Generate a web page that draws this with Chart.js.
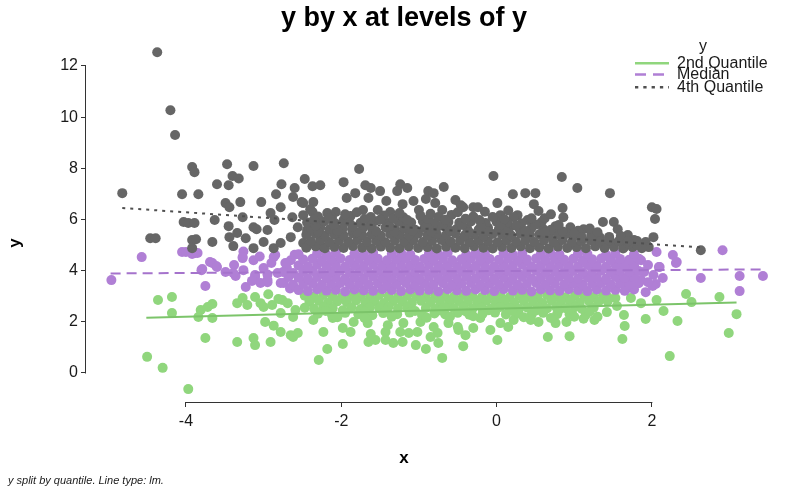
<!DOCTYPE html>
<html>
<head>
<meta charset="utf-8">
<script src="https://cdn.jsdelivr.net/npm/chart.js@4/dist/chart.umd.min.js"></script>
<style>
  html, body { margin: 0; padding: 0; background: #fff; }
</style>
</head>
<body>
<canvas id="myChart" width="799" height="494"></canvas>
<script>
// tick labels
const xTicks = [-4, -2, 0, 2];
const yTicks = [0, 2, 4, 6, 8, 10, 12];
const groupNames = ['2nd Quantile', 'Median', '4th Quantile'];

// points, [x, y]
const greenPts = [
  [-4.50,0.63],[-4.30,0.20],[-3.97,-0.63],[-4.36,2.85],[-4.18,2.97],[-4.18,2.34],[-3.81,2.46],[-3.84,2.19],[-3.72,2.58],[-3.66,2.70],
  [-3.66,2.15],[-3.75,1.37],[-3.34,2.73],[-3.27,2.93],[-3.21,2.66],[-3.11,2.97],[-3.04,2.73],[-3.00,2.58],[-2.94,3.08],[-2.89,2.66],
  [-2.98,1.99],[-2.87,1.85],[-2.78,1.60],[-2.76,2.85],[-2.69,2.73],[-2.65,1.48],[-2.91,1.21],[-3.13,1.37],[-3.11,1.09],[-3.34,1.21],
  [-2.59,2.46],[-2.62,2.19],[-2.81,2.89],[-2.78,2.34],[-2.62,1.41],[-2.56,1.56],
  [-2.29,0.51],[-2.18,0.94],[-2.23,1.60],[-1.98,1.13],[-1.65,1.21],[-1.56,1.29],[-1.33,1.17],[-1.21,1.21],[-1.04,1.09],[-0.91,0.94],
  [-0.70,0.59],[-0.75,1.17],[-0.43,1.05],[-0.40,1.48],[-0.49,1.68],[0.01,1.29],[0.15,1.80],[0.66,1.41],[-1.98,1.76],[-1.88,1.60],
  [-1.62,1.52],[-1.43,1.29],[-1.43,1.60],[-1.24,1.60],[-1.13,1.56],[-1.02,1.60],[-0.85,1.41],[-0.76,1.56],[-0.30,1.76],[-0.21,2.15],
  [-0.08,1.68],[0.22,2.07],[0.44,2.07],[0.54,1.99],[-2.36,2.07],[-2.11,2.15],[-1.84,1.99],[-1.66,1.95],[-1.40,1.87],[-1.20,1.95],
  [-0.98,1.99],[-0.81,1.80],[-0.62,1.95],[-0.50,1.80],[0.05,1.95],
  [0.94,1.44],[0.76,1.95],[0.90,1.99],[0.94,2.30],[1.26,2.07],[1.42,2.38],[1.64,2.27],[1.65,1.84],[1.62,1.33],[1.92,2.11],
  [2.15,2.42],[2.33,2.03],[2.23,0.66],[2.99,1.56],[3.09,2.30],[2.87,2.97],[2.51,2.77],[2.44,3.09],[2.06,2.85],[1.86,2.73],
  [1.73,2.93],[1.53,2.93],[1.43,2.97],[1.55,2.62],[1.30,2.20],[1.12,2.12],
  [-2.47,3.02],[-2.35,2.98],[-2.23,3.05],[-2.11,3.00],[-1.99,2.97],[-1.87,3.04],[-1.75,3.01],[-1.63,2.98],[-1.51,3.05],[-1.39,3.00],
  [-1.27,2.96],[-1.15,3.03],[-1.03,3.00],[-0.91,2.97],[-0.79,3.04],[-0.67,3.01],[-0.55,2.98],[-0.43,3.05],[-0.31,3.00],[-0.19,2.96],
  [-0.07,3.03],[0.05,3.00],[0.17,2.97],[0.29,3.04],[0.41,3.01],[0.53,2.98],[0.65,3.05],[0.77,3.00],[0.89,2.96],[1.01,3.03],
  [1.13,3.00],[1.25,2.97],[1.37,3.03],
  [-2.41,2.78],[-2.29,2.82],[-2.17,2.75],[-2.05,2.80],[-1.93,2.77],[-1.81,2.83],[-1.69,2.76],[-1.57,2.79],[-1.45,2.74],[-1.33,2.81],
  [-1.21,2.78],[-1.09,2.75],[-0.97,2.82],[-0.85,2.77],[-0.73,2.80],[-0.61,2.74],[-0.49,2.81],[-0.37,2.78],[-0.25,2.75],[-0.13,2.82],
  [-0.01,2.77],[0.11,2.80],[0.23,2.75],[0.35,2.81],[0.47,2.78],[0.59,2.74],[0.71,2.82],[0.83,2.77],[0.95,2.80],[1.07,2.75],
  [1.19,2.81],[1.31,2.77],[1.43,2.80],
  [-2.47,2.55],[-2.35,2.51],[-2.23,2.58],[-2.11,2.53],[-1.87,2.56],[-1.75,2.50],[-1.63,2.57],[-1.51,2.53],[-1.39,2.59],[-1.27,2.52],
  [-1.15,2.56],[-0.91,2.54],[-0.79,2.50],[-0.67,2.57],[-0.55,2.53],[-0.43,2.58],[-0.31,2.51],[-0.19,2.55],[-0.07,2.52],[0.05,2.58],
  [0.17,2.54],[0.29,2.50],[0.53,2.56],[0.65,2.52],[0.77,2.57],[0.89,2.53],[1.01,2.58],[1.25,2.55],
  [-2.30,2.32],[-2.12,2.28],[-1.95,2.35],[-1.78,2.30],[-1.60,2.26],[-1.46,2.34],[-1.28,2.30],[-1.12,2.36],[-0.96,2.27],[-0.80,2.33],
  [-0.66,2.29],[-0.50,2.35],[-0.35,2.28],[-0.18,2.32],[-0.02,2.36],[0.12,2.29],[0.28,2.33],[0.45,2.27],[0.60,2.35],[0.78,2.30],
  [0.97,2.34],[1.15,2.28],
  [-2.20,2.42],[-1.98,2.45],[-1.70,2.40],[-1.43,2.44],[-1.05,2.42],[-0.72,2.44],[-0.40,2.41],[-0.10,2.45],[0.20,2.42],[0.40,2.55],
  [0.50,2.43],[0.80,2.45],[1.10,2.50],[1.20,2.40],
  [-2.05,2.18],[-1.70,2.15],[-1.35,2.20],[-0.90,2.16],[-0.60,2.20],[-0.30,2.22],[0.35,2.18],[0.70,2.15],[1.00,2.20]
];

const purplePts = [
  [-4.57,4.53],[-4.96,3.63],[-4.05,4.73],[-3.92,4.65],[-3.85,4.69],[-3.75,3.40],[-3.80,4.02],[-3.69,4.34],[-3.61,4.18],[-3.49,3.95],
  [-3.38,4.22],[-3.36,3.79],[-3.26,4.75],[-3.27,4.49],[-3.13,4.41],[-3.23,3.36],[-3.11,3.75],[-3.00,4.10],[-2.95,3.63],[-2.85,4.61],
  [-2.82,3.91],[-2.74,3.52],[-2.65,4.41],[-2.62,3.91],[-4.00,4.73],[-3.88,4.69],[-3.79,4.06],[-3.66,4.30],[-3.60,4.14],[-3.39,3.91],
  [-3.27,4.53],[-3.26,4.02],[-3.11,3.83],[-3.04,3.52],[-2.95,3.55],[-2.87,4.53],[-2.78,3.52],[-2.70,4.10],[-2.66,3.30],
  [-2.68,3.75],[-2.72,4.30],[-2.60,4.62],[-2.62,3.45],[-2.75,3.95],[-2.90,4.30],[-2.95,3.85],[-3.05,4.55],[-3.15,3.60],
  [3.43,3.79],[3.13,3.79],[3.13,3.20],[2.63,3.71],[2.32,4.34],[2.14,3.71],[2.10,4.14],[2.02,3.83],[2.05,3.48],[2.01,3.40],
  [1.92,3.16],[1.86,3.63],[1.73,3.79],[1.66,4.22],[1.56,4.18],[1.69,3.32],[2.91,4.80],[2.27,4.61],[2.31,4.30],[2.06,4.73],
  [1.86,4.41],[1.95,4.22],[2.09,4.14],[1.95,3.55],[1.90,3.95],
  [-2.55,3.24],[-2.43,3.20],[-2.31,3.27],[-2.19,3.22],[-2.07,3.25],[-1.95,3.19],[-1.83,3.26],[-1.71,3.23],[-1.59,3.21],[-1.47,3.27],
  [-1.35,3.24],[-1.23,3.20],[-1.11,3.26],[-0.99,3.22],[-0.87,3.25],[-0.75,3.19],[-0.63,3.27],[-0.51,3.23],[-0.39,3.21],[-0.27,3.26],
  [-0.15,3.24],[-0.03,3.20],[0.09,3.27],[0.21,3.22],[0.33,3.25],[0.45,3.19],[0.57,3.26],[0.69,3.23],[0.81,3.21],[0.93,3.27],
  [1.05,3.24],[1.17,3.20],[1.29,3.26],[1.41,3.22],[1.53,3.25],[1.65,3.21],[1.77,3.26],
  [-2.49,3.48],[-2.37,3.51],[-2.25,3.45],[-2.13,3.49],[-2.01,3.52],[-1.89,3.46],[-1.77,3.50],[-1.65,3.47],[-1.53,3.51],[-1.41,3.45],
  [-1.29,3.48],[-1.17,3.52],[-1.05,3.46],[-0.93,3.50],[-0.81,3.47],[-0.69,3.51],[-0.57,3.45],[-0.45,3.49],[-0.33,3.52],[-0.21,3.46],
  [-0.09,3.50],[0.03,3.47],[0.15,3.51],[0.27,3.45],[0.39,3.48],[0.51,3.52],[0.63,3.46],[0.75,3.50],[0.87,3.47],[0.99,3.51],
  [1.11,3.45],[1.23,3.49],[1.35,3.52],[1.47,3.46],[1.59,3.50],[1.71,3.47],[1.83,3.51],
  [-2.55,3.72],[-2.43,3.69],[-2.31,3.75],[-2.19,3.71],[-2.07,3.74],[-1.95,3.68],[-1.83,3.73],[-1.71,3.70],[-1.59,3.76],[-1.47,3.71],
  [-1.35,3.69],[-1.23,3.74],[-1.11,3.72],[-0.99,3.68],[-0.87,3.75],[-0.75,3.71],[-0.63,3.73],[-0.51,3.69],[-0.39,3.76],[-0.27,3.70],
  [-0.15,3.72],[-0.03,3.68],[0.09,3.74],[0.21,3.71],[0.33,3.75],[0.45,3.69],[0.57,3.73],[0.69,3.70],[0.81,3.76],[0.93,3.71],
  [1.05,3.69],[1.17,3.74],[1.29,3.72],[1.41,3.68],[1.53,3.75],[1.65,3.71],[1.77,3.73],
  [-2.49,3.96],[-2.37,3.99],[-2.25,3.93],[-2.13,3.97],[-2.01,4.00],[-1.89,3.94],[-1.77,3.98],[-1.65,3.95],[-1.53,3.99],[-1.41,3.93],
  [-1.29,3.96],[-1.17,4.00],[-1.05,3.94],[-0.93,3.98],[-0.81,3.95],[-0.69,3.99],[-0.57,3.93],[-0.45,3.97],[-0.33,4.00],[-0.21,3.94],
  [-0.09,3.98],[0.03,3.95],[0.15,3.99],[0.27,3.93],[0.39,3.96],[0.51,4.00],[0.63,3.94],[0.75,3.98],[0.87,3.95],[0.99,3.99],
  [1.11,3.93],[1.23,3.97],[1.35,4.00],[1.47,3.94],[1.59,3.98],[1.71,3.95],[1.83,3.99],
  [-2.55,4.20],[-2.43,4.17],[-2.31,4.23],[-2.19,4.19],[-2.07,4.22],[-1.95,4.16],[-1.83,4.21],[-1.71,4.18],[-1.59,4.24],[-1.47,4.19],
  [-1.35,4.17],[-1.23,4.22],[-1.11,4.20],[-0.99,4.16],[-0.87,4.23],[-0.75,4.19],[-0.63,4.21],[-0.51,4.17],[-0.39,4.24],[-0.27,4.18],
  [-0.15,4.20],[-0.03,4.16],[0.09,4.22],[0.21,4.19],[0.33,4.23],[0.45,4.17],[0.57,4.21],[0.69,4.18],[0.81,4.24],[0.93,4.19],
  [1.05,4.17],[1.17,4.22],[1.29,4.20],[1.41,4.16],[1.53,4.23],[1.65,4.19],[1.77,4.21],
  [-2.49,4.44],[-2.37,4.47],[-2.25,4.41],[-2.13,4.45],[-2.01,4.48],[-1.89,4.42],[-1.77,4.46],[-1.65,4.43],[-1.53,4.47],[-1.41,4.41],
  [-1.29,4.44],[-1.17,4.48],[-1.05,4.42],[-0.93,4.46],[-0.81,4.43],[-0.69,4.47],[-0.57,4.41],[-0.45,4.45],[-0.33,4.48],[-0.21,4.42],
  [-0.09,4.46],[0.03,4.43],[0.15,4.47],[0.27,4.41],[0.39,4.44],[0.51,4.48],[0.63,4.42],[0.75,4.46],[0.87,4.43],[0.99,4.47],
  [1.11,4.41],[1.23,4.45],[1.35,4.48],[1.47,4.42],[1.59,4.46],[1.71,4.43],[1.83,4.47],
  [-2.55,4.64],[-2.31,4.68],[-2.19,4.62],[-2.07,4.70],[-1.83,4.66],[-1.71,4.63],[-1.59,4.69],[-1.35,4.65],[-1.23,4.70],[-1.11,4.62],
  [-0.87,4.67],[-0.75,4.64],[-0.63,4.70],[-0.39,4.63],[-0.27,4.68],[-0.15,4.65],[0.09,4.69],[0.21,4.62],[0.33,4.67],[0.57,4.64],
  [0.69,4.70],[0.81,4.63],[1.05,4.68],[1.17,4.65],[1.41,4.62],[1.53,4.69],[1.77,4.64]
];

const grayPts = [
  [-4.37,12.54],[-4.20,10.27],[-4.14,9.30],[-4.82,7.03],[-3.92,8.05],[-3.89,7.85],[-3.47,8.16],[-3.13,8.09],[-2.74,8.20],[-3.40,7.70],
  [-3.32,7.60],[-3.60,7.38],[-3.45,7.34],[-4.05,6.99],[-3.84,6.99],[-2.77,7.38],[-2.84,6.99],[-2.60,7.23],[-2.47,7.58],[-2.37,7.30],
  [-2.27,7.34],[-3.49,6.64],[-3.44,6.48],[-3.30,6.68],[-3.03,6.68],[-3.27,6.09],[-3.63,5.98],[-4.03,5.90],[-3.97,5.86],[-3.89,5.86],
  [-4.46,5.27],[-4.39,5.27],[-3.92,5.20],[-3.87,5.23],[-3.66,5.12],[-3.92,4.88],[-3.45,5.74],[-3.44,5.31],[-3.34,5.47],[-3.23,5.27],
  [-3.39,4.96],[-3.13,5.70],[-3.09,5.62],[-2.95,5.59],[-2.91,6.25],[-2.78,6.48],[-2.86,5.98],[-3.13,4.88],[-3.00,5.12],[-2.87,4.88],
  [-2.78,5.08],[-2.65,5.31],[-2.62,6.88],[-2.51,6.68],[-2.36,6.68],[-2.63,6.09],[-2.49,6.17],[-2.37,6.29],[-2.56,5.70],[-2.44,5.59],
  [-2.31,5.86],[-2.23,5.31],[-2.49,5.08],[-2.23,4.92],[-2.18,6.25],
  [-1.77,7.97],[-1.97,7.46],[-1.69,7.34],[-1.62,7.23],[-1.50,7.11],[-1.82,7.03],[-1.93,6.84],[-1.65,6.84],[-1.42,6.72],[-1.24,7.38],
  [-1.15,7.23],[-1.28,7.11],[-1.21,6.60],[-1.07,6.72],[-0.88,7.11],[-0.81,7.03],[-0.91,6.80],[-0.68,7.27],[-0.79,6.64],[-0.53,6.76],
  [-0.04,7.70],[0.01,6.64],[0.21,6.99],[0.37,7.03],[0.50,7.03],[0.48,6.60],[0.54,6.33],[-2.49,6.64],[-0.30,6.48],[-0.43,6.48],
  [-0.70,6.37],[-1.00,6.37],[-1.53,6.37],[-2.07,6.29],[-1.72,6.37],[-1.37,6.29],[0.05,6.17],[0.27,6.17],[0.22,6.09],[0.40,5.98],
  [-0.46,6.56],[-0.24,6.48],
  [0.84,7.66],[1.04,7.23],[1.46,7.03],[0.85,6.45],[0.86,6.09],[2.00,6.48],[2.06,6.41],[2.04,6.02],[2.02,5.31],[2.63,4.80],
  [1.37,5.90],[1.51,5.90],[1.56,5.62],[1.12,5.62],[0.95,5.70],[0.76,5.74],[1.69,5.39],[1.77,5.20],[1.92,5.12],[1.96,4.92],
  [1.64,4.92],[1.43,5.08],[1.28,5.08],
  [-2.45,4.90],[-2.33,4.95],[-2.21,4.88],[-2.09,4.93],[-1.97,4.89],[-1.85,4.96],[-1.73,4.90],[-1.61,4.87],[-1.49,4.94],[-1.37,4.90],
  [-1.25,4.88],[-1.13,4.95],[-1.01,4.89],[-0.89,4.92],[-0.77,4.87],[-0.65,4.94],[-0.53,4.90],[-0.41,4.88],[-0.29,4.95],[-0.17,4.90],
  [-0.05,4.87],[0.07,4.93],[0.19,4.89],[0.31,4.95],[0.43,4.88],[0.55,4.91],[0.67,4.87],[0.79,4.94],[0.91,4.89],[1.03,4.92],
  [1.15,4.88],[1.27,4.95],[1.39,4.89],[1.51,4.93],[1.63,4.87],[1.75,4.92],[1.87,4.88],
  [-2.39,5.15],[-2.27,5.19],[-2.15,5.12],[-2.03,5.17],[-1.91,5.14],[-1.79,5.20],[-1.67,5.13],[-1.55,5.16],[-1.43,5.11],[-1.31,5.18],
  [-1.19,5.14],[-1.07,5.19],[-0.95,5.12],[-0.83,5.16],[-0.71,5.20],[-0.59,5.13],[-0.47,5.17],[-0.35,5.12],[-0.23,5.18],[-0.11,5.15],
  [0.01,5.11],[0.13,5.19],[0.25,5.14],[0.37,5.17],[0.49,5.12],[0.61,5.18],[0.73,5.14],[0.85,5.20],[0.97,5.12],[1.09,5.16],
  [1.21,5.19],[1.57,5.15],
  [-2.45,5.40],[-2.33,5.44],[-2.21,5.37],[-2.09,5.42],[-1.97,5.38],[-1.85,5.45],[-1.73,5.39],[-1.61,5.41],[-1.49,5.36],[-1.37,5.43],
  [-1.25,5.40],[-1.13,5.38],[-1.01,5.44],[-0.89,5.37],[-0.77,5.42],[-0.65,5.39],[-0.53,5.45],[-0.41,5.38],[-0.29,5.41],[-0.17,5.36],
  [-0.05,5.43],[0.07,5.40],[0.19,5.37],[0.31,5.44],[0.43,5.39],[0.55,5.42],[0.67,5.37],[0.79,5.41],[0.91,5.44],[1.03,5.38],
  [1.22,5.40],
  [-2.39,5.64],[-2.27,5.68],[-2.15,5.62],[-1.98,5.66],[-1.86,5.61],[-1.72,5.67],[-1.60,5.63],[-1.43,5.69],[-1.31,5.62],[-1.19,5.66],
  [-1.05,5.60],[-0.93,5.67],[-0.78,5.63],[-0.64,5.68],[-0.52,5.62],[-0.38,5.66],[-0.23,5.61],[-0.11,5.68],[0.03,5.63],[0.16,5.66],
  [0.30,5.61],[0.45,5.67],[0.60,5.63],[0.70,5.60],
  [-2.44,5.88],[-2.22,5.92],[-2.08,5.85],[-1.90,5.90],[-1.75,5.87],[-1.57,5.93],[-1.40,5.86],[-1.26,5.91],[-1.10,5.88],[-0.95,5.94],
  [-0.80,5.86],[-0.62,5.90],[-0.48,5.87],[-0.33,5.92],[-0.14,5.86],[0.00,5.91],[0.14,5.88],[0.32,5.85],[0.58,5.90],
  [-2.30,6.12],[-2.12,6.08],[-1.88,6.14],[-1.62,6.10],[-1.45,6.16],[-1.20,6.09],[-0.98,6.14],[-0.75,6.10],[-0.58,6.18],[-0.30,6.12],
  [-0.05,6.10],[0.62,6.05],
  [-2.30,5.52],[-2.05,5.55],[-1.80,5.50],[-1.55,5.54],[-1.32,5.51],[-1.08,5.56],[-0.84,5.52],[-0.60,5.55],[-0.35,5.50],[-0.12,5.54],
  [0.12,5.52],[0.37,5.55],[0.62,5.50],[0.85,5.53],[1.05,5.56],
  [-2.33,5.76],[-2.10,5.79],[-1.85,5.74],[-1.63,5.78],[-1.38,5.75],[-1.15,5.80],[-0.90,5.74],[-0.70,5.77],[-0.45,5.79],[-0.20,5.74],
  [0.05,5.78],[0.25,5.76],[0.50,5.80],[0.80,5.78],[1.00,5.45],
  [-2.35,6.00],[-2.15,6.03],[-1.97,5.98],[-1.70,6.02],[-1.50,5.99],[-1.33,6.04],[-1.15,5.98],[-0.88,6.02],[-0.66,5.99],[-0.40,6.03],
  [-0.22,5.98],[0.10,6.01],[0.45,6.05],
  [-2.40,6.40],[-1.95,6.20],[-1.80,6.28],[-1.25,6.25],[-0.85,6.22],[-0.50,6.28],[-0.15,6.30],[0.15,6.35],[0.70,6.20],
  [1.33,5.30],[1.45,5.32],[1.10,5.30],[1.20,5.65],[1.30,5.50],[1.60,5.35],[1.80,5.00],[1.70,5.05],[1.45,5.25],[1.33,5.14],
  [1.45,5.18],[1.69,5.14],[1.81,5.16]
];

// lm fit lines, end points
const greenFit = [[-4.51, 2.16], [3.09, 2.76]];
const purpleFit = [[-4.97, 3.89], [3.40, 4.05]];
const grayFit = [[-4.82, 6.45], [2.62, 4.91]];

const FONT = '"Liberation Sans", Arial, Helvetica, sans-serif';
const GREEN = '#90d67d', PURPLE = '#b07fd5', GRAY = '#666666';
const GREEN_LN = '#7cc46a', PURPLE_LN = '#a573cc', GRAY_LN = '#505050';

const toXY = arr => arr.map(p => ({ x: p[0], y: p[1] }));

function pointSet(pts, color) {
  return {
    type: 'scatter',
    data: toXY(pts),
    backgroundColor: color,
    borderWidth: 0,
    pointRadius: 5,
    pointHoverRadius: 5
  };
}

function fitSet(pts, color, dash) {
  return {
    type: 'line',
    data: toXY(pts),
    borderColor: color,
    borderWidth: 2,
    borderDash: dash,
    pointRadius: 0,
    fill: false,
    tension: 0
  };
}

// trimmed axis lines, only across the tick range
const trimAxes = {
  id: 'trimAxes',
  afterDraw(chart) {
    const { ctx, chartArea, scales } = chart;
    ctx.save();
    ctx.strokeStyle = '#333';
    ctx.lineWidth = 1;
    ctx.beginPath();
    const ax = Math.round(chartArea.left) - 0.5;
    ctx.moveTo(ax, scales.y.getPixelForValue(yTicks[yTicks.length - 1]));
    ctx.lineTo(ax, scales.y.getPixelForValue(yTicks[0]) + 0.5);
    const ay = Math.round(chartArea.bottom) + 0.5;
    ctx.moveTo(scales.x.getPixelForValue(xTicks[0]) - 0.5, ay);
    ctx.lineTo(scales.x.getPixelForValue(xTicks[xTicks.length - 1]) + 0.5, ay);
    ctx.stroke();
    ctx.restore();
  }
};

// axis titles, caption and legend
const extras = {
  id: 'extras',
  afterDraw(chart) {
    const c = chart.ctx;
    c.save();
    c.fillStyle = '#000';
    c.textBaseline = 'middle';
    c.textAlign = 'center';
    c.font = 'bold 17px ' + FONT;
    c.fillText('x', 404, 458);
    c.save();
    c.translate(15, 243);
    c.rotate(-Math.PI / 2);
    c.fillText('y', 0, 0);
    c.restore();

    c.font = 'italic 11px ' + FONT;
    c.textAlign = 'left';
    c.fillStyle = '#1a1a1a';
    c.fillText('y split by quantile. Line type: lm.', 8, 481);

    // legend
    c.font = '16px ' + FONT;
    c.textAlign = 'center';
    c.fillText('y', 703, 47);
    c.textAlign = 'left';
    const rowsY = [63.3, 74.5, 87.3];
    const cols = [GREEN, PURPLE, GRAY_LN];
    const dashes = [[], [11, 7], [3.3, 5]];
    groupNames.forEach((name, i) => {
      c.save();
      c.strokeStyle = cols[i];
      c.lineWidth = 2.6;
      c.setLineDash(dashes[i]);
      c.beginPath();
      c.moveTo(635, rowsY[i]);
      c.lineTo(669, rowsY[i]);
      c.stroke();
      c.restore();
      c.fillText(name, 677, rowsY[i]);
    });
    c.restore();
  }
};

const ctx = document.getElementById('myChart').getContext('2d');
const myChart = new Chart(ctx, {
  type: 'scatter',
  data: {
    datasets: [
      fitSet(greenFit, GREEN_LN, []),
      fitSet(purpleFit, PURPLE_LN, [10, 6]),
      fitSet(grayFit, GRAY_LN, [3, 5]),
      pointSet(grayPts, GRAY),
      pointSet(purplePts, PURPLE),
      pointSet(greenPts, GREEN)
    ]
  },
  options: {
    responsive: false,
    devicePixelRatio: 1,
    animation: false,
    events: [],
    layout: { padding: { left: 9, right: 0, top: 0, bottom: 0 } },
    plugins: {
      legend: { display: false },
      tooltip: { enabled: false },
      title: {
        display: true,
        text: 'y by x at levels of y',
        color: '#000',
        font: { family: FONT, size: 27, weight: 'bold' },
        padding: { top: 2.3, bottom: 3.3 }
      }
    },
    scales: {
      x: {
        type: 'linear',
        min: -5.287,
        max: 3.83,
        afterBuildTicks: s => { s.ticks = xTicks.map(v => ({ value: v })); },
        afterFit: s => { s.height = 92; },
        grid: { drawOnChartArea: false, drawTicks: true, tickLength: 5, color: '#333' },
        border: { display: false },
        ticks: { font: { family: FONT, size: 16 }, color: '#1a1a1a', padding: 5, maxRotation: 0 }
      },
      y: {
        type: 'linear',
        min: -1.134,
        max: 13.094,
        afterBuildTicks: s => { s.ticks = yTicks.map(v => ({ value: v })); },
        afterFit: s => { s.width = 77; },
        grid: { drawOnChartArea: false, drawTicks: true, tickLength: 5, color: '#333' },
        border: { display: false },
        ticks: { font: { family: FONT, size: 16 }, color: '#1a1a1a', padding: 3 }
      }
    }
  },
  plugins: [trimAxes, extras]
});
</script>
</body>
</html>
